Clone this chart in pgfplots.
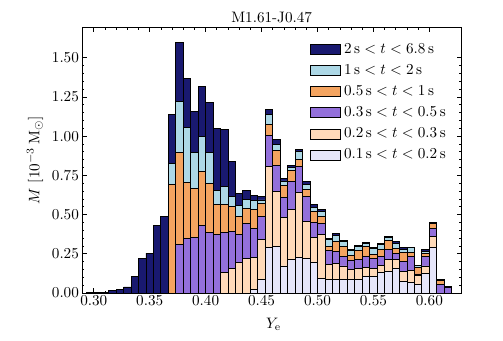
\documentclass[border=0pt]{standalone}
\usepackage{pgfplots}
\pgfplotsset{compat=1.18}
\usepackage{pgfplotstable}
\definecolor{cNv}{RGB}{25,25,112}
\definecolor{cLb}{RGB}{173,216,230}
\definecolor{cOr}{RGB}{244,164,96}
\definecolor{cPu}{RGB}{147,112,219}
\definecolor{cPe}{RGB}{255,218,185}
\definecolor{cLa}{RGB}{230,230,250}
\pgfplotstableread{
x la pe pu or lb nv
0.29667 0 0 0 0 0 0.004
0.30333 0 0 0 0 0 0.005
0.31000 0 0 0 0 0 0.006
0.31667 0 0 0 0 0 0.015
0.32333 0 0 0 0 0 0.025
0.33000 0 0 0 0 0 0.038
0.33667 0 0 0 0 0 0.106
0.34333 0 0 0 0 0 0.220
0.35000 0 0 0 0 0 0.254
0.35667 0 0 0 0 0 0.432
0.36333 0 0 0 0 0 0.487
0.37000 0 0 0 0.691 0.133 0.312
0.37667 0 0 0.309 0.585 0.329 0.377
0.38333 0 0 0.345 0.359 0.353 0.308
0.39000 0 0 0.354 0.311 0.229 0.263
0.39667 0 0 0.430 0.344 0.226 0.314
0.40333 0 0 0.386 0.311 0.197 0.320
0.41000 0 0 0.370 0.192 0.091 0.394
0.41667 0 0.131 0.255 0.180 0.114 0.360
0.42333 0 0.157 0.235 0.161 0.062 0.222
0.43000 0 0.195 0.178 0.114 0.068 0.079
0.43667 0 0.221 0.222 0.095 0.058 0.057
0.44333 0.024 0.203 0.184 0.121 0.059 0.030
0.45000 0.087 0.254 0.144 0.085 0.023 0.024
0.45667 0.292 0.515 0.196 0.069 0.064 0.032
0.46333 0.299 0.349 0.164 0.095 0.042 0.028
0.47000 0.172 0.309 0.127 0.077 0.029 0.015
0.47667 0.214 0.318 0.178 0.072 0.017 0.013
0.48333 0.229 0.411 0.167 0.047 0.047 0.012
0.49000 0.217 0.238 0.158 0.047 0.032 0.018
0.49667 0.193 0.162 0.092 0.072 0.028 0.017
0.50333 0.093 0.279 0.071 0.047 0.031 0.011
0.51000 0.083 0.101 0.084 0.030 0.042 0.005
0.51667 0.083 0.106 0.078 0.064 0.038 0.010
0.52333 0.087 0.085 0.059 0.068 0.027 0.011
0.53000 0.083 0.068 0.054 0.032 0.032 0.009
0.53667 0.087 0.070 0.057 0.059 0.026 0.004
0.54333 0.108 0.053 0.070 0.063 0.024 0.006
0.55000 0.104 0.053 0.061 0.030 0.034 0.008
0.55667 0.129 0.049 0.057 0.043 0.029 0.009
0.56333 0.135 0.079 0.064 0.059 0.017 0.008
0.57000 0.157 0.057 0.038 0.034 0.031 0.011
0.57667 0.072 0.063 0.066 0.055 0.022 0.012
0.58333 0.066 0.080 0.089 0.021 0.034 0.002
0.59000 0.057 0.053 0.011 0.042 0.013 0.002
0.59667 0.125 0.047 0.059 0.021 0.015 0.011
0.60333 0.290 0.068 0.053 0.032 0.002 0.004
0.61000 0 0 0.055 0.025 0.001 0.002
0.61667 0 0 0.034 0.001 0.001 0.007
}\histdata
\pgfplotsset{
  mybar/.style={fill=#1, draw=black, line width=0.6pt,
    legend image code/.code={\draw[fill=#1,draw=black,line width=0.6pt] (0pt,-3.3pt) rectangle (20pt,3.3pt);}},
}
\begin{document}
\begin{tikzpicture}
\useasboundingbox (-54.05pt,-31.6pt) rectangle (277.5pt,193.1pt);
\begin{axis}[
  scale only axis, width=250pt, height=174.7pt,
  xmin=0.2895, xmax=0.6285, ymin=0, ymax=1.69,
  ybar stacked, bar width=0.0066667,
  xtick={0.3,0.35,0.4,0.45,0.5,0.55,0.6}, minor x tick num=4,
  ytick={0,0.25,0.5,0.75,1,1.25,1.5}, minor y tick num=4,
  tick align=inside, tick pos=both,
  major tick length=3pt, minor tick length=1.6pt,
  every tick/.style={black, line width=0.45pt},
  axis line style={line width=0.6pt},
  x tick label style={/pgf/number format/fixed,/pgf/number format/fixed zerofill,/pgf/number format/precision=2, yshift=1.5pt},
  y tick label style={/pgf/number format/fixed,/pgf/number format/fixed zerofill,/pgf/number format/precision=2, xshift=1.5pt},
  every axis title shift=0pt,
  title={M1.61-J0.47},
  title style={at={(axis description cs:0.5,1)}, anchor=base, yshift=3.3pt, inner sep=0pt},
  xlabel={$Y_\mathrm{e}$},
  xlabel style={at={(axis description cs:0.505,-0.118)}, anchor=center},
  ylabel={$M\ [10^{-3}\,\mathrm{M}_\odot]$},
  ylabel style={at={(axis description cs:-0.124,0.5)}, anchor=center},
  reverse legend,
  legend cell align=left,
  legend style={draw=none, fill=none, at={(axis description cs:1,1)}, anchor=north east, xshift=-5pt, yshift=-6pt, row sep=2pt},
]
\addplot[mybar=cLa] table[x=x,y=la] {\histdata};
\addplot[mybar=cPe] table[x=x,y=pe] {\histdata};
\addplot[mybar=cPu] table[x=x,y=pu] {\histdata};
\addplot[mybar=cOr] table[x=x,y=or] {\histdata};
\addplot[mybar=cLb] table[x=x,y=lb] {\histdata};
\addplot[mybar=cNv] table[x=x,y=nv] {\histdata};
\legend{{$0.1\,\mathrm{s} < t < 0.2\,\mathrm{s}$},
        {$0.2\,\mathrm{s} < t < 0.3\,\mathrm{s}$},
        {$0.3\,\mathrm{s} < t < 0.5\,\mathrm{s}$},
        {$0.5\,\mathrm{s} < t < 1\,\mathrm{s}$},
        {$1\,\mathrm{s} < t < 2\,\mathrm{s}$},
        {$2\,\mathrm{s} < t < 6.8\,\mathrm{s}$}}
\end{axis}
\end{tikzpicture}
\end{document}
